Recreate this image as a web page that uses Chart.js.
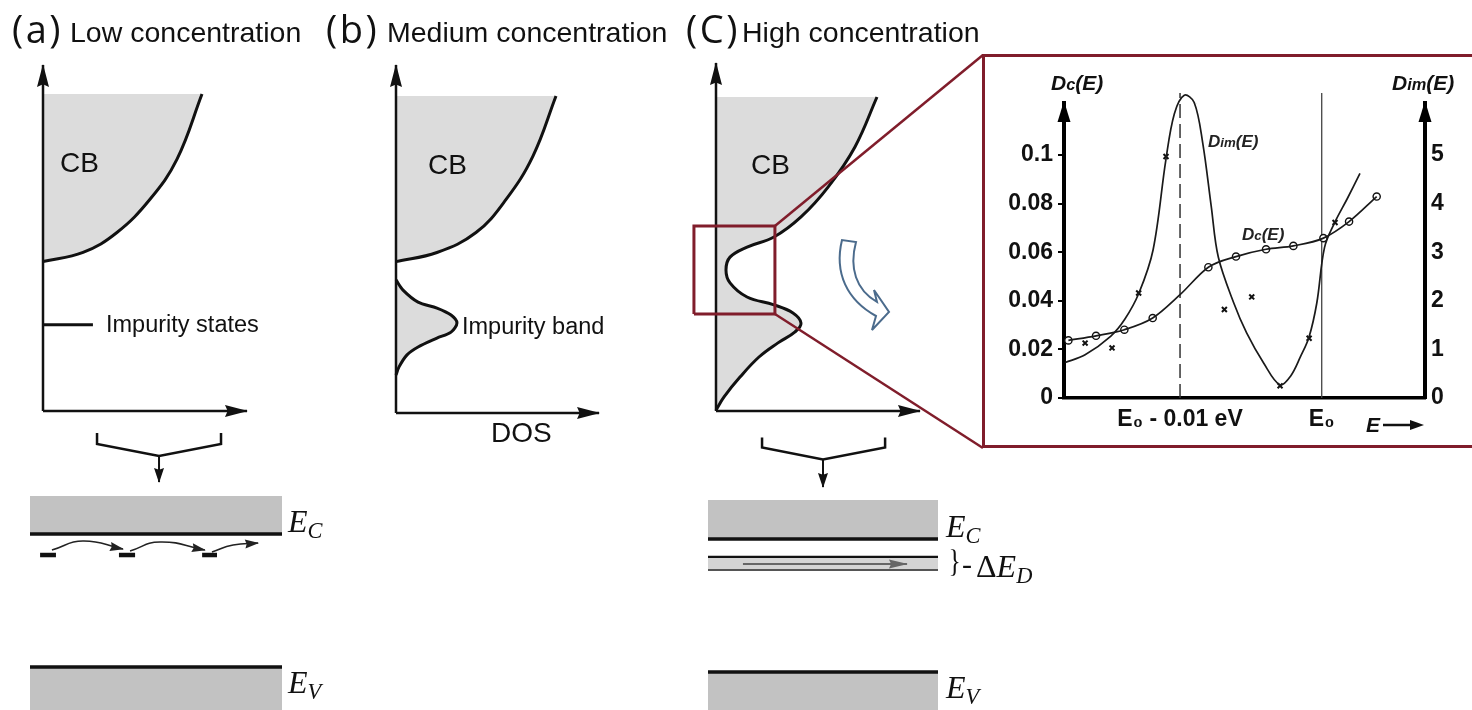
<!DOCTYPE html>
<html>
<head>
<meta charset="utf-8">
<script src="https://cdn.jsdelivr.net/npm/chart.js@4.4.1/dist/chart.umd.min.js"></script>
<style>
  html, body { margin: 0; padding: 0; background: #fff; }
  #fig { position: relative; width: 1472px; height: 710px; overflow: hidden; font-family: "Liberation Sans", Arial, sans-serif; color: #111; }
  #fig canvas { position: absolute; z-index: 1; }
  .t { position: absolute; white-space: nowrap; line-height: 1; z-index: 2; }
  .tag { font-family: "Open Sans", sans-serif; font-size: 38px; letter-spacing: 2.5px; }
  .title { font-size: 28.5px; }
  .cb { font-size: 28px; }
  .note { font-size: 23.5px; }
  .lvl { font-family: "Liberation Serif", serif; font-size: 32px; }
  .lvl i { font-style: italic; }
  .lvl .s { font-size: 0.7em; position: relative; top: 0.25em; font-style: italic; }
  .ax { font-weight: bold; font-style: italic; font-size: 21px; }
  .ax .s, .lab .s { font-size: 0.78em; }
  .lab { font-style: italic; font-size: 17px; font-weight: bold; color: #222; }
  #inset { position: absolute; left: 982px; top: 54px; width: 500px; height: 394px; border: 3px solid #801d2b; box-sizing: border-box; }
</style>
</head>
<body>
<div id="fig">
  <div id="inset"></div>

  <div class="t tag" style="left:12px;top:9px;">(a)</div>
  <div class="t title" style="left:70px;top:18px;">Low concentration</div>
  <div class="t tag" style="left:326px;top:9px;">(b)</div>
  <div class="t title" style="left:387px;top:18px;">Medium concentration</div>
  <div class="t tag" style="left:686px;top:9px;">(C)</div>
  <div class="t title" style="left:742px;top:18px;">High concentration</div>

  <div class="t cb" style="left:60px;top:149px;">CB</div>
  <div class="t cb" style="left:428px;top:151px;">CB</div>
  <div class="t cb" style="left:751px;top:151px;">CB</div>
  <div class="t note" style="left:106px;top:313px;">Impurity states</div>
  <div class="t note" style="left:462px;top:315px;">Impurity band</div>
  <div class="t cb" style="left:491px;top:419px;">DOS</div>

  <div class="t lvl" style="left:288px;top:505px;"><i>E</i><span class="s">C</span></div>
  <div class="t lvl" style="left:288px;top:666px;"><i>E</i><span class="s">V</span></div>
  <div class="t lvl" style="left:946px;top:510px;"><i>E</i><span class="s">C</span></div>
  <div class="t lvl" style="left:947px;top:545px;font-size:32px;transform:scaleX(0.8);">}</div>
  <div class="t lvl" style="left:962px;top:549px;font-size:30px;">-</div>
  <div class="t lvl" style="left:976px;top:550px;">Δ<i>E</i><span class="s">D</span></div>
  <div class="t lvl" style="left:946px;top:671px;"><i>E</i><span class="s">V</span></div>

  <div class="t ax" style="left:1051px;top:72px;">D<span class="s">c</span>(E)</div>
  <div class="t ax" style="left:1392px;top:72px;">D<span class="s">im</span>(E)</div>
  <div class="t lab" style="left:1208px;top:133px;">D<span class="s">im</span>(E)</div>
  <div class="t lab" style="left:1242px;top:226px;">D<span class="s">c</span>(E)</div>
  <div class="t ax" style="left:1366px;top:414px;">E</div>
  <svg class="t" style="left:1382px;top:418px;" width="46" height="14">
    <line x1="1" y1="7" x2="32" y2="7" stroke="#111" stroke-width="2.5"/>
    <polygon points="42,7 28,2 28,12" fill="#111"/>
  </svg>
  <svg class="t" style="left:832px;top:238px;" width="66" height="100">
    <path d="M 10 2 C 2 35, 15 62, 44 78 L 40 92 L 57 74 L 42 52 L 45 64 C 24 52, 17 30, 24 4 Z"
          fill="#fff" stroke="#4b6b8c" stroke-width="2"/>
  </svg>
</div>

<script>
"use strict";

// --- panel (a) low concentration: DOS (x) vs energy (y), arb. units ---
const lowCbDos = [0, 0.252, 0.465, 0.673, 0.843, 1.0];
const lowCbE = [0.473, 0.502, 0.565, 0.67, 0.797, 1.003];
const lowImpDos = [0, 0.314];
const lowImpE = [0.273, 0.273];

// --- panel (b) medium concentration ---
const medCbDos = [0, 0.256, 0.5, 0.688, 0.856, 1.0];
const medCbE = [0.479, 0.508, 0.571, 0.676, 0.813, 1.003];
const medBandDos = [0, 0.044, 0.138, 0.256, 0.344, 0.381, 0.344, 0.256, 0.138, 0.069, 0.019, 0];
const medBandE = [0.421, 0.389, 0.351, 0.332, 0.31, 0.285, 0.256, 0.237, 0.209, 0.184, 0.146, 0.12];

// --- panel (c) high concentration (impurity band merged with CB) ---
const highDos = [0, 0.05, 0.149, 0.267, 0.385, 0.491, 0.528, 0.478, 0.36, 0.193, 0.087, 0.062, 0.087, 0.193, 0.36, 0.528, 0.696, 0.863, 1.0];
const highE = [0.003, 0.045, 0.108, 0.172, 0.217, 0.252, 0.28, 0.312, 0.338, 0.363, 0.408, 0.449, 0.49, 0.522, 0.554, 0.618, 0.713, 0.841, 1.0];
const zoomBoxDos = [-0.137, 0.366, 0.366, -0.137, -0.137];
const zoomBoxE = [0.309, 0.309, 0.589, 0.589, 0.309];
const zoomLinkDos = [0.366, 1.658];
const zoomLinkTopE = [0.589, 1.134];
const zoomLinkBottomE = [0.309, -0.118];

// axis arrow ends for (a), (b), (c)
const axisTipDos = [1.283, 1.269, 1.267];
const axisTipE = [1.095, 1.101, 1.108];

// --- band diagrams (x: position 0..1, y: energy with Ev = 0, Ec = 1) ---
const bandX = [0, 1];
const ecLevel = [1, 1];
const evLevel = [0, 0];
const lowCbTop = 1.286;
const highCbTop = 1.293;
const vbBottom = -0.4;
const donorStart = [0.04, 0.353, 0.683];
const donorEnd = [0.103, 0.417, 0.742];
const donorE = 0.842;
const hopX = [[0.087, 0.21, 0.369], [0.397, 0.516, 0.694], [0.722, 0.806, 0.905]];
const hopE = [[0.88, 0.947, 0.887], [0.872, 0.94, 0.88], [0.865, 0.917, 0.932]];
const impBandTop = [0.865, 0.865];
const impBandBottom = [0.767, 0.767];
const impArrowX = [0.152, 0.865];
const impArrowE = [0.812, 0.812];
const lowBracketX = [0.266, 0.266, 0.512, 0.758, 0.758];
const lowBracketE = [1.759, 1.677, 1.586, 1.677, 1.759];
const lowDownX = [0.512, 0.512];
const lowDownE = [1.586, 1.391];
const highBracketX = [0.235, 0.235, 0.5, 0.77, 0.77];
const highBracketE = [1.763, 1.688, 1.598, 1.688, 1.763];
const highDownX = [0.5, 0.5];
const highDownE = [1.598, 1.391];

// --- inset: Dc(E) and Dim(E), energy in meV relative to E0 ---
const dcPointE = [-17.88, -15.93, -13.93, -11.93, -8.0, -6.05, -3.93, -2.0, 0.12, 1.93, 3.88];
const dcPointV = [0.0237, 0.0256, 0.0281, 0.0329, 0.0538, 0.0582, 0.0612, 0.0626, 0.0658, 0.0726, 0.0829];
const dcCurveE = [-17.88, -15.93, -13.93, -11.93, -10.0, -8.0, -6.05, -3.93, -2.0, 0.12, 1.93, 3.88];
const dcCurveV = [0.0237, 0.0256, 0.0281, 0.0329, 0.0425, 0.0538, 0.0582, 0.0612, 0.0626, 0.0658, 0.0726, 0.0829];
const dimPointE = [-16.7, -14.8, -12.92, -10.99, -8.94, -6.87, -4.94, -2.94, -0.89, 0.94];
const dimPointV = [1.13, 1.03, 2.16, 4.97, 6.13, 1.82, 2.08, 0.25, 1.23, 3.61];
const dimCurveE = [-18.1, -16.7, -14.9, -13.9, -12.9, -11.9, -11.0, -10.4, -9.7, -9.0, -8.4, -7.8, -7.3, -6.2, -5.3, -4.1, -2.95, -2.2, -1.5, -0.9, -0.35, 0.2, 0.9, 1.8, 2.7];
const dimCurveV = [0.73, 0.89, 1.27, 1.62, 2.16, 3.05, 4.9, 5.85, 6.23, 6.08, 5.25, 3.95, 2.9, 1.95, 1.34, 0.72, 0.27, 0.45, 0.85, 1.25, 1.95, 3.1, 3.6, 4.1, 4.62];
const markerE = [-10, 0];
const markerTop = 0.1255;
const eTickLabels = ["E₀ - 0.01 eV", "E₀"];
const dcTickValues = [0, 0.02, 0.04, 0.06, 0.08, 0.1];
const dcTickLabels = ["0", "0.02", "0.04", "0.06", "0.08", "0.1"];
const dimTickValues = [0, 1, 2, 3, 4, 5];
const dimTickLabels = ["0", "1", "2", "3", "4", "5"];

const INK = "#111";
const DOS_FILL = "#dcdcdc";
const BAND_FILL = "#c2c2c2";
const RED = "#801d2b";
const FONT = '"Liberation Sans", Arial, sans-serif';

// arrow heads at the end of any dataset that asks for one
const arrowHeads = {
  id: "arrowHeads",
  afterDatasetsDraw(chart) {
    const ctx = chart.ctx;
    chart.data.datasets.forEach((ds, i) => {
      if (!ds.arrowHead) return;
      const els = chart.getDatasetMeta(i).data;
      const tip = els[els.length - 1];
      const prev = els[els.length - 2];
      let fx = prev.x;
      let fy = prev.y;
      if (ds.tension && tip.cp1x !== undefined && Math.hypot(tip.cp1x - tip.x, tip.cp1y - tip.y) > 0.5) {
        fx = tip.cp1x;
        fy = tip.cp1y;
      }
      const ang = Math.atan2(tip.y - fy, tip.x - fx);
      const len = ds.arrowHead.len;
      const half = ds.arrowHead.half;
      ctx.save();
      ctx.translate(tip.x, tip.y);
      ctx.rotate(ang);
      ctx.beginPath();
      ctx.moveTo(1, 0);
      ctx.lineTo(-len, -half);
      ctx.lineTo(-len * 0.88, 0);
      ctx.lineTo(-len, half);
      ctx.closePath();
      ctx.fillStyle = ds.arrowHead.color || ds.borderColor;
      ctx.fill();
      ctx.restore();
    });
  },
};
Chart.register(arrowHeads);

const fig = document.getElementById("fig");

function addCanvas(box) {
  const c = document.createElement("canvas");
  c.width = box.w;
  c.height = box.h;
  c.style.left = box.x + "px";
  c.style.top = box.y + "px";
  c.style.width = box.w + "px";
  c.style.height = box.h + "px";
  fig.appendChild(c);
  return c.getContext("2d");
}

// hidden linear scales so that the data origin lands on the given pixel
function frameScales(box, origin, unit) {
  return {
    x: { type: "linear", display: false, min: (box.x - origin.x) / unit.x, max: (box.x + box.w - origin.x) / unit.x },
    y: { type: "linear", display: false, min: (origin.y - box.y - box.h) / unit.y, max: (origin.y - box.y) / unit.y },
  };
}

function sketchOptions(scales, indexAxis) {
  return {
    responsive: false,
    animation: false,
    devicePixelRatio: 1,
    events: [],
    indexAxis: indexAxis,
    layout: { padding: 0 },
    scales: scales,
    plugins: { legend: { display: false }, tooltip: { enabled: false } },
  };
}

function pts(xs, ys) {
  return xs.map((x, i) => ({ x: x, y: ys[i] }));
}

function lineDs(data, opts) {
  return Object.assign({ data: data, borderColor: INK, borderWidth: 2.5, pointRadius: 0, tension: 0, fill: false }, opts);
}

const axisHead = { len: 22, half: 6 };

function axesFor(k) {
  return [
    lineDs(pts([0, 0], [0, axisTipE[k]]), { arrowHead: axisHead, order: 2 }),
    lineDs(pts([0, axisTipDos[k]], [0, 0]), { arrowHead: axisHead, order: 2 }),
  ];
}

// (a) low concentration
const boxA = { x: 10, y: 45, w: 320, h: 390 };
new Chart(addCanvas(boxA), {
  type: "line",
  data: {
    datasets: [
      lineDs(pts(lowCbDos, lowCbE), { fill: "origin", backgroundColor: DOS_FILL, borderWidth: 3, tension: 0.4, order: 3 }),
      lineDs(pts(lowImpDos, lowImpE), { borderWidth: 3, order: 2 }),
    ].concat(axesFor(0)),
  },
  options: sketchOptions(frameScales(boxA, { x: 43, y: 411 }, { x: 159, y: 316 }), "y"),
});

// (b) medium concentration
const boxB = { x: 360, y: 45, w: 290, h: 390 };
new Chart(addCanvas(boxB), {
  type: "line",
  data: {
    datasets: [
      lineDs(pts(medCbDos, medCbE), { fill: "origin", backgroundColor: DOS_FILL, borderWidth: 3, tension: 0.4, order: 3 }),
      lineDs(pts(medBandDos, medBandE), { fill: "origin", backgroundColor: DOS_FILL, borderWidth: 3, tension: 0.3, order: 3 }),
    ].concat(axesFor(1)),
  },
  options: sketchOptions(frameScales(boxB, { x: 396, y: 413 }, { x: 160, y: 316 }), "y"),
});

// (c) high concentration, with the zoom box and its links to the inset
const boxC = { x: 640, y: 40, w: 350, h: 420 };
new Chart(addCanvas(boxC), {
  type: "line",
  data: {
    datasets: [
      lineDs(pts(highDos, highE), { fill: "origin", backgroundColor: DOS_FILL, borderWidth: 3, tension: 0.4, order: 3 }),
      lineDs(pts(zoomBoxDos, zoomBoxE), { borderColor: RED, borderWidth: 3, order: 1 }),
      lineDs(pts(zoomLinkDos, zoomLinkTopE), { borderColor: RED, borderWidth: 2.5, order: 1 }),
      lineDs(pts(zoomLinkDos, zoomLinkBottomE), { borderColor: RED, borderWidth: 2.5, order: 1 }),
    ].concat(axesFor(2)),
  },
  options: sketchOptions(frameScales(boxC, { x: 716, y: 411 }, { x: 161, y: 314 }), "y"),
});

// band diagram under (a): isolated donors, hopping
const hopHead = { len: 13, half: 4.5 };
const downHead = { len: 14, half: 5 };
const boxBA = { x: 10, y: 425, w: 330, h: 285 };
new Chart(addCanvas(boxBA), {
  type: "line",
  data: {
    datasets: [
      lineDs(pts(bandX, ecLevel), { fill: { value: lowCbTop }, backgroundColor: BAND_FILL, borderWidth: 3.5, order: 3 }),
      lineDs(pts(bandX, evLevel), { fill: { value: vbBottom }, backgroundColor: BAND_FILL, borderWidth: 3.5, order: 3 }),
      lineDs(pts(lowBracketX, lowBracketE), { borderWidth: 2.5, order: 2 }),
      lineDs(pts(lowDownX, lowDownE), { borderWidth: 2, arrowHead: downHead, order: 2 }),
    ]
      .concat(donorStart.map((x0, i) => lineDs(pts([x0, donorEnd[i]], [donorE, donorE]), { borderWidth: 4.5, order: 2 })))
      .concat(hopX.map((xs, i) => lineDs(pts(xs, hopE[i]), { borderWidth: 1.6, borderColor: "#222", tension: 0.5, arrowHead: hopHead, order: 2 }))),
  },
  options: sketchOptions(frameScales(boxBA, { x: 30, y: 667 }, { x: 252, y: 133 }), "x"),
});

// band diagram under (c): impurity band of width dE_D
const boxBC = { x: 690, y: 425, w: 270, h: 285 };
new Chart(addCanvas(boxBC), {
  type: "line",
  data: {
    datasets: [
      lineDs(pts(bandX, ecLevel), { fill: { value: highCbTop }, backgroundColor: BAND_FILL, borderWidth: 3.5, order: 3 }),
      lineDs(pts(bandX, impBandTop), { fill: { value: impBandBottom[0] }, backgroundColor: "#d4d4d4", borderWidth: 2.2, order: 3 }),
      lineDs(pts(bandX, impBandBottom), { borderColor: "#555", borderWidth: 2, order: 2 }),
      lineDs(pts(impArrowX, impArrowE), { borderColor: "#666", borderWidth: 2, arrowHead: { len: 18, half: 4.5 }, order: 2 }),
      lineDs(pts(bandX, evLevel), { fill: { value: vbBottom }, backgroundColor: BAND_FILL, borderWidth: 3.5, order: 3 }),
      lineDs(pts(highBracketX, highBracketE), { borderWidth: 2.5, order: 2 }),
      lineDs(pts(highDownX, highDownE), { borderWidth: 2, arrowHead: downHead, order: 2 }),
    ],
  },
  options: sketchOptions(frameScales(boxBC, { x: 708, y: 672 }, { x: 230, y: 133 }), "x"),
});

// inset: two y axes with arrow heads on top
const insetArrows = {
  id: "insetArrows",
  afterDraw(chart) {
    const ctx = chart.ctx;
    const area = chart.chartArea;
    [area.left, area.right].forEach((x) => {
      ctx.save();
      ctx.beginPath();
      ctx.moveTo(x, area.top - 2);
      ctx.lineTo(x - 6.5, area.top + 19);
      ctx.lineTo(x + 6.5, area.top + 19);
      ctx.closePath();
      ctx.fillStyle = "#000";
      ctx.fill();
      ctx.restore();
    });
  },
};

const tickFont = { family: FONT, size: 23, weight: "bold" };
const insetBox = { x: 985, y: 58, w: 487, h: 388 };
new Chart(addCanvas(insetBox), {
  type: "line",
  data: {
    datasets: [
      lineDs(pts(dimCurveE, dimCurveV), { yAxisID: "y2", borderColor: "#1a1a1a", borderWidth: 1.7, tension: 0.35, clip: false }),
      lineDs(pts(dcCurveE, dcCurveV), { yAxisID: "y", borderColor: "#1a1a1a", borderWidth: 1.7, cubicInterpolationMode: "monotone" }),
      {
        data: pts(dimPointE, dimPointV), yAxisID: "y2", showLine: false,
        pointStyle: "crossRot", pointRadius: 3.5, pointBorderWidth: 2, pointBorderColor: "#111", borderColor: "#111",
      },
      {
        data: pts(dcPointE, dcPointV), yAxisID: "y", showLine: false,
        pointStyle: "circle", pointRadius: 3.6, pointBorderWidth: 1.4, pointBorderColor: "#111", pointBackgroundColor: "#fff",
      },
      lineDs(pts([markerE[0], markerE[0]], [0, markerTop]), { yAxisID: "y", borderColor: "#333", borderWidth: 1.5, borderDash: [14, 6], clip: false }),
      lineDs(pts([markerE[1], markerE[1]], [0, markerTop]), { yAxisID: "y", borderColor: "#444", borderWidth: 1.3, clip: false }),
    ],
  },
  options: {
    responsive: false,
    animation: false,
    devicePixelRatio: 1,
    events: [],
    layout: { padding: { top: 45, left: 0, right: 0, bottom: 0 } },
    plugins: { legend: { display: false }, tooltip: { enabled: false } },
    scales: {
      x: {
        type: "linear",
        min: -18.19,
        max: 7.29,
        grid: { display: false, drawTicks: false },
        border: { width: 3.5, color: "#000" },
        afterBuildTicks: (s) => {
          s.ticks = markerE.map((v) => ({ value: v }));
        },
        ticks: { autoSkip: false, maxRotation: 0, padding: 8, color: INK, font: tickFont, callback: (v, i) => eTickLabels[i] },
        afterFit: (s) => {
          s.height = 48;
        },
      },
      y: {
        position: "left",
        min: 0,
        max: 0.1214,
        grid: { drawOnChartArea: false, drawTicks: true, tickLength: 6, color: "#000", lineWidth: 2 },
        border: { width: 4, color: "#000" },
        afterBuildTicks: (s) => {
          s.ticks = dcTickValues.map((v) => ({ value: v }));
        },
        ticks: { padding: 5, color: INK, font: tickFont, callback: (v, i) => dcTickLabels[i] },
        afterFit: (s) => {
          s.width = 79;
        },
      },
      y2: {
        position: "right",
        min: 0,
        max: 6.07,
        grid: { display: false, drawTicks: false },
        border: { width: 4, color: "#000" },
        afterBuildTicks: (s) => {
          s.ticks = dimTickValues.map((v) => ({ value: v }));
        },
        ticks: { padding: 6, color: INK, font: tickFont, callback: (v, i) => dimTickLabels[i] },
        afterFit: (s) => {
          s.width = 47;
        },
      },
    },
  },
  plugins: [insetArrows],
});
</script>
</body>
</html>
